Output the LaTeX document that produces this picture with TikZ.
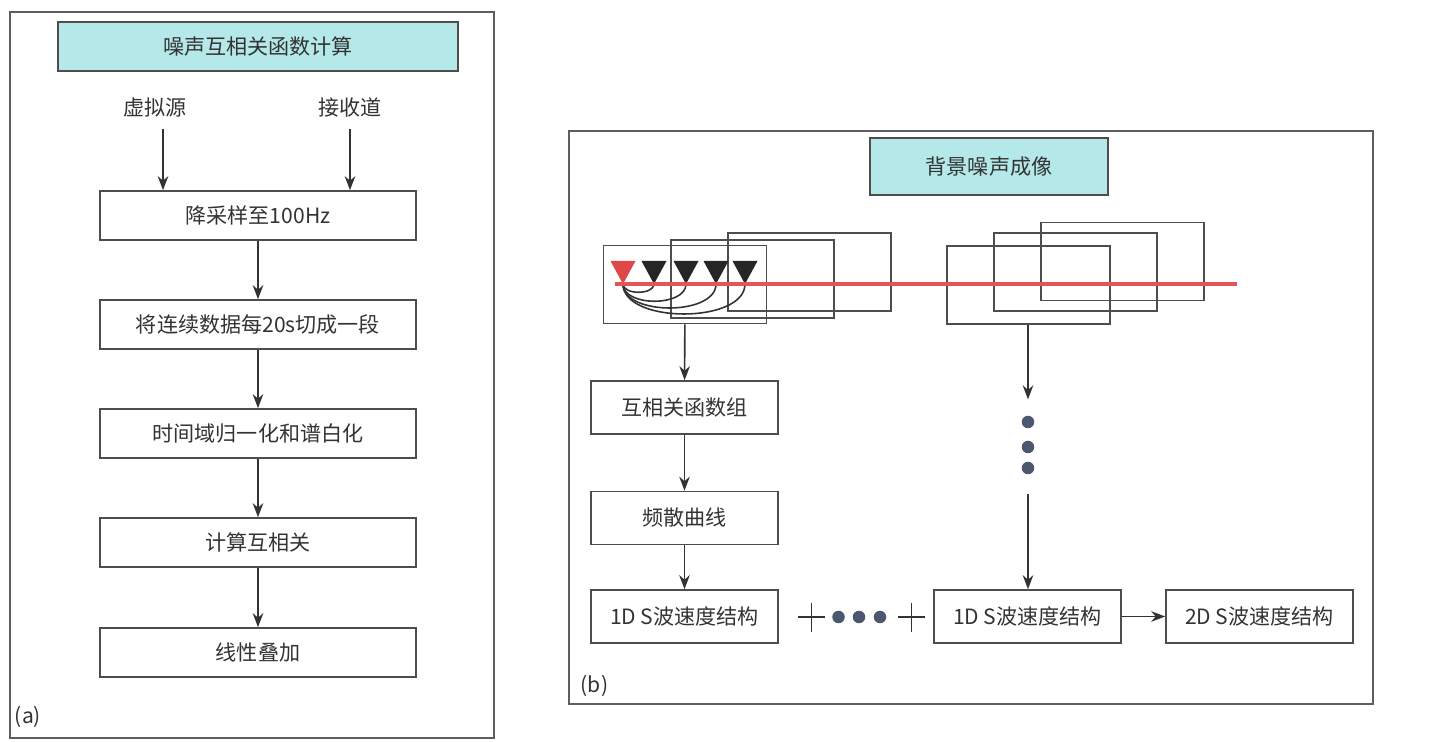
\documentclass[tikz,border=0pt]{standalone}
\usepackage{fontspec}
\setmainfont{Noto Sans CJK SC}
\usetikzlibrary{arrows.meta}
\definecolor{linegray}{HTML}{4D4D4D}
\definecolor{framegray}{HTML}{5E5E5E}
\definecolor{textgray}{HTML}{333333}
\definecolor{titlecyan}{HTML}{B5E8E8}
\definecolor{stationred}{HTML}{E04848}
\definecolor{profilered}{HTML}{E65555}
\definecolor{dotslate}{HTML}{4B5870}

\begin{document}
\begin{tikzpicture}[x=0.02cm,y=-0.02cm,
    font=\fontsize{12pt}{14pt}\selectfont, text=textgray,
    stepbox/.style={draw=linegray,line width=0.9pt,minimum width=6.32cm,minimum height=0.98cm},
    resbox/.style={draw=linegray,line width=0.9pt,minimum width=3.74cm,minimum height=1.06cm},
    titlebox/.style={draw=linegray,line width=0.9pt,fill=titlecyan},
    window/.style={draw=linegray,line width=0.9pt,minimum width=3.26cm,minimum height=1.56cm},
    arr/.style={-{Stealth[length=8pt,width=6pt]},draw=textgray,line width=0.9pt},
    dotmark/.style={circle,fill=dotslate,inner sep=0pt,minimum size=0.25cm}]
  \useasboundingbox (0,0) rectangle (1438,742);

  % (a) cross-correlation
  \draw[framegray,line width=0.9pt] (10,12) rectangle (494,738);
  \node[titlebox,minimum width=8cm,minimum height=0.98cm] (titleA) at (258,46.5) {噪声互相关函数计算};
  \node (src) at (155,107) {虚拟源};
  \node (rcv) at (350,107) {接收道};
  \node[stepbox] (down) at (258,215.5) {降采样至100Hz};
  \node[stepbox] (cut) at (258,324.5) {将连续数据每20s切成一段};
  \node[stepbox] (norm) at (258,433.5) {时间域归一化和谱白化};
  \node[stepbox] (xcorr) at (258,542.5) {计算互相关};
  \node[stepbox] (stack) at (258,652.5) {线性叠加};
  \node (labA) at (28,717) {(a)};

  \draw[arr,shorten <=0.13cm] ([xshift=0.16cm]src.south) -- ([xshift=0.16cm]src.south |- down.north);
  \draw[arr,shorten <=0.13cm] (rcv.south) -- (rcv.south |- down.north);
  \draw[arr] (down) -- (cut);
  \draw[arr] (cut) -- (norm);
  \draw[arr] (norm) -- (xcorr);
  \draw[arr] (xcorr) -- (stack);

  % (b) ambient noise imaging
  \draw[framegray,line width=0.9pt] (569,131) rectangle (1373,704);
  \node[titlebox,minimum width=4.76cm,minimum height=1.14cm] (titleB) at (989,166.5) {背景噪声成像};
  \node[window] (winA) at (685,284.5) {};
  \node[window] (winB) at (752.5,279) {};
  \node[window] (winC) at (809.5,272) {};
  \node[window] (winD) at (1028.5,285) {};
  \node[window] (winE) at (1075.5,272) {};
  \node[window] (winF) at (1122.5,261.5) {};

  % stations and station pairs
  \fill[stationred] (610.5,261) -- (635.5,261) -- (623,284) -- cycle;
  \coordinate (tip0) at (623,284);
  \foreach \x [count=\i] in {654,686,716,745} {
    \fill[black!85] (\x-12.5,261) -- (\x+12.5,261) -- (\x,284) -- cycle;
    \coordinate (tip\i) at (\x,284);
  }
  \foreach \i/\d in {1/11,2/23,3/32,4/40}
    \draw[textgray,line width=0.9pt] (tip0) .. controls +(0,\d) and +(0,\d) .. (tip\i);
  \draw[profilered,line width=2.2pt] (615,284) -- (1237,284);

  \node[resbox] (ccf) at (684.5,407.5) {互相关函数组};
  \node[resbox] (disp) at (684.5,518) {频散曲线};
  \node[resbox] (velA) at (684.5,616.5) {1D S波速度结构};
  \node[resbox] (velB) at (1027.5,616.5) {1D S波速度结构};
  \node[resbox] (velC) at (1259.5,616.5) {2D S波速度结构};
  \node (labB) at (594.5,686) {(b)};

  \draw[arr] (winA) -- (ccf);
  \draw[arr] (ccf) -- (disp);
  \draw[arr] (disp) -- (velA);
  \draw[arr] (velB) -- (velC);

  % vertical ellipsis
  \node[dotmark] (vdotA) at (1028,422) {};
  \node[dotmark] (vdotB) at (1028,447) {};
  \node[dotmark] (vdotC) at (1028,468) {};
  \draw[arr,shorten >=0.32cm] (winD.south -| vdotA) -- (vdotA.north);
  \draw[arr,shorten <=0.38cm] (vdotC.south) -- (vdotC |- velB.north);

  % horizontal ellipsis
  \draw[textgray,line width=1pt] (798,617) -- (825,617) (811.5,603) -- (811.5,632);
  \draw[textgray,line width=1pt] (898,617) -- (925,617) (911.5,603) -- (911.5,632);
  \foreach \x [count=\i] in {838.5,859,880}
    \node[dotmark] (hdot\i) at (\x,617) {};
\end{tikzpicture}
\end{document}
